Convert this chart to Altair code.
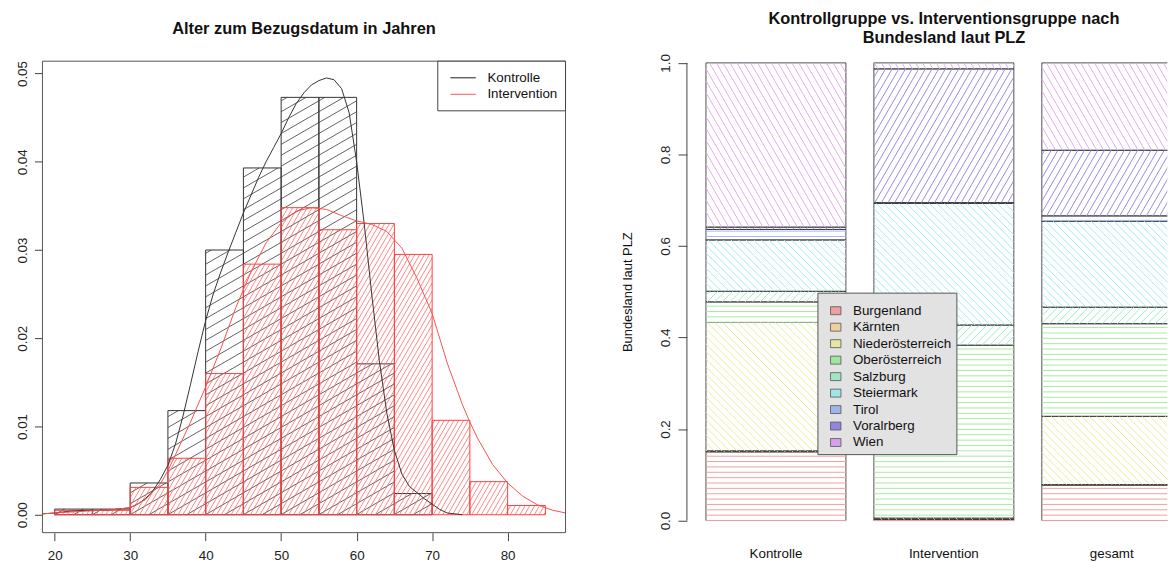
import math
import pandas as pd
import altair as alt

FONT = "Liberation Sans"

# ---------------- data: left panel (histogram + density) ----------------
bin_starts = [20, 25, 30, 35, 40, 45, 50, 55, 60, 65, 70, 75, 80]
bin_width = 5
kontrolle_density = [0.00064, 0.00064, 0.0036, 0.0118, 0.0300, 0.0393, 0.0473,
                     0.0473, 0.0171, 0.0024, 0.0, 0.0, 0.0]
intervention_density = [0.0005, 0.0005, 0.0031, 0.0064, 0.0160, 0.0284, 0.0348,
                        0.0323, 0.0330, 0.0295, 0.0107, 0.00375, 0.00105]

kde_kontrolle_x = [18.4, 20, 22, 24, 26, 28, 30, 31, 32, 33, 34, 35, 36, 37, 38, 39,
                   40, 41, 42, 43, 44, 45, 46, 47, 48, 49, 50, 51, 52, 53, 54, 55,
                   56, 57, 58, 59, 60, 61, 62, 63, 64, 65, 66, 67, 68, 69, 70, 71,
                   72, 73, 74]
kde_kontrolle_y = [0.0001, 0.0002, 0.0004, 0.0005, 0.0005, 0.0006, 0.0008, 0.0012,
                   0.0018, 0.0027, 0.0040, 0.0056, 0.0080, 0.0112, 0.0148, 0.0185,
                   0.0220, 0.0250, 0.0275, 0.0298, 0.0320, 0.0342, 0.0362, 0.0382,
                   0.0400, 0.0416, 0.0432, 0.0450, 0.0466, 0.0478, 0.0487, 0.0492,
                   0.0495, 0.0493, 0.0483, 0.0456, 0.0400, 0.0330, 0.0250, 0.0175,
                   0.0115, 0.0073, 0.0046, 0.0032, 0.0025, 0.0018, 0.0012, 0.0006,
                   0.0002, 0.0001, 0.0]
kde_intervention_x = [18.4, 20, 22, 24, 26, 28, 30, 32, 34, 35, 36, 38, 40, 42, 44,
                      46, 48, 50, 52, 54, 56, 58, 60, 62, 64, 66, 68, 70, 72, 74, 75,
                      76, 78, 80, 82, 84, 86, 87.7]
kde_intervention_y = [0.0001, 0.0002, 0.0003, 0.0004, 0.0005, 0.0006, 0.0008, 0.0017,
                      0.0035, 0.0050, 0.0068, 0.0105, 0.0145, 0.0188, 0.0235, 0.0275,
                      0.0308, 0.0331, 0.0344, 0.0348, 0.0346, 0.0339, 0.0333, 0.0329,
                      0.0321, 0.0302, 0.0268, 0.0228, 0.0172, 0.0125, 0.0105, 0.0087,
                      0.0057, 0.0036, 0.0021, 0.0011, 0.0005, 0.0002]
hist_x_ticks = [20, 30, 40, 50, 60, 70, 80]
hist_y_ticks = [0.0, 0.01, 0.02, 0.03, 0.04, 0.05]
hist_series = ["Kontrolle", "Intervention"]
hist_title = "Alter zum Bezugsdatum in Jahren"

# ---------------- data: right panel (stacked shares) ----------------
bar_groups = ["Kontrolle", "Intervention", "gesamt"]
bundeslaender = ["Burgenland", "Kärnten", "Niederösterreich", "Oberösterreich",
                 "Salzburg", "Steiermark", "Tirol", "Voralrberg", "Wien"]
share_kontrolle = [0.150, 0.002, 0.2807, 0.0449, 0.0232, 0.1122, 0.023, 0.005, 0.359]
share_intervention = [0.002, 0.0, 0.003, 0.378, 0.044, 0.2657, 0.002, 0.2921, 0.0132]
share_gesamt = [0.0774, 0.001, 0.1492, 0.2024, 0.036, 0.188, 0.0116, 0.1434, 0.191]
bar_y_ticks = [0.0, 0.2, 0.4, 0.6, 0.8, 1.0]
bar_title = ["Kontrollgruppe vs. Interventionsgruppe nach", "Bundesland laut PLZ"]
bar_ylabel = "Bundesland laut PLZ"

# ---------------- styles ----------------
hatch_style = {  # angle (deg), spacing (px), line colour
    "Burgenland": (0, 5.4, "#f2a0a0"),
    "Kärnten": (45, 5.4, "#f2d2a0"),
    "Niederösterreich": (135, 5.4, "#ecec98"),
    "Oberösterreich": (0, 5.4, "#a6eca0"),
    "Salzburg": (45, 5.4, "#a0ecc6"),
    "Steiermark": (135, 5.4, "#a0ecec"),
    "Tirol": (0, 5.4, "#a6b6f0"),
    "Voralrberg": (60, 5.8, "#998be6"),
    "Wien": (120, 6.0, "#e4aaf4"),
}
swatch_colors = ["#eea0a0", "#eed0a0", "#e6e6a0", "#a0e6a0", "#a0e6c6", "#a0e6e6",
                 "#a0b4ec", "#9484e0", "#d8a0ec"]

# ---------------- layout ----------------
LW, LH = 527, 475
LX = [18.38, 87.67]
LY = [-0.00203, 0.0514]
RW, RH = 484, 475
R_PX_PER_BAR = 141.0
RX = [0.064, 0.064 + RW / R_PX_PER_BAR]
RY = [-0.0265, 1.0037]
GAP = 122.3
BAR_SPACE, BAR_WIDTH = 0.2, 1.0


def hatch(x0, x1, y0, y1, angle, spacing, sx, sy):
    X0, X1 = sorted((x0 * sx, x1 * sx))
    Y0, Y1 = sorted((y0 * sy, y1 * sy))
    if X1 - X0 < 1e-9 or Y1 - Y0 < 1e-9:
        return []
    th = math.radians(angle)
    dx, dy = math.cos(th), math.sin(th)
    nx, ny = -dy, dx
    cs = [nx * X + ny * Y for X in (X0, X1) for Y in (Y0, Y1)]
    segs = []
    for k in range(math.ceil(min(cs) / spacing), math.floor(max(cs) / spacing) + 1):
        c = k * spacing
        px, py = c * nx, c * ny
        t0, t1 = -1e12, 1e12
        for p, d, lo, hi in ((px, dx, X0, X1), (py, dy, Y0, Y1)):
            if abs(d) < 1e-12:
                if p < lo - 1e-9 or p > hi + 1e-9:
                    t0, t1 = 1.0, 0.0
            else:
                a, b = (lo - p) / d, (hi - p) / d
                if a > b:
                    a, b = b, a
                t0, t1 = max(t0, a), min(t1, b)
        if t1 - t0 > 1e-6:
            segs.append(((px + t0 * dx) / sx, (py + t0 * dy) / sy,
                         (px + t1 * dx) / sx, (py + t1 * dy) / sy))
    return segs


def one(text):
    return pd.DataFrame({"t": [text]})


# ======================= LEFT PANEL =======================
lsx = LW / (LX[1] - LX[0])
lsy = LH / (LY[1] - LY[0])
lxs = alt.Scale(domain=LX, nice=False, zero=False)
lys = alt.Scale(domain=LY, nice=False, zero=False)

L_XAX = alt.Axis(values=hist_x_ticks, format="d", domain=False, grid=False, tickSize=8,
                 tickColor="#444", labelFontSize=13.5, labelPadding=8.5, labelColor="#222",
                 labelFont=FONT, labelOverlap=False, title=None)
L_YAX = alt.Axis(values=hist_y_ticks, format=".2f", domain=False, grid=False, tickSize=8,
                 tickColor="#444", labelFontSize=13.5, labelAngle=270, labelAlign="center",
                 labelBaseline="alphabetic", labelPadding=8, labelColor="#222",
                 labelFont=FONT, labelOverlap=False, title=None)

hist_rows = []
hatch_rows = []
for series, dens, angle, spacing, col in (
        ("Kontrolle", kontrolle_density, 30, 9.5, "#3a3a3a"),
        ("Intervention", intervention_density, 60, 4.2, "#ff6a6a")):
    for b, d in zip(bin_starts, dens):
        hist_rows.append({"series": series, "x0": b, "x1": b + bin_width, "y0": 0.0, "y1": d})
        for s in hatch(b, b + bin_width, 0.0, d, angle, spacing, lsx, lsy):
            hatch_rows.append({"series": series, "x": s[0], "y": s[1], "x2": s[2], "y2": s[3], "col": col})
hist_df = pd.DataFrame(hist_rows)
hatch_df = pd.DataFrame(hatch_rows)

kde_df = pd.concat([
    pd.DataFrame({"x": kde_kontrolle_x, "y": kde_kontrolle_y, "series": "Kontrolle", "col": "#333333"}),
    pd.DataFrame({"x": kde_intervention_x, "y": kde_intervention_y, "series": "Intervention", "col": "#ff5050"}),
])


def hist_hatch(series):
    return alt.Chart(hatch_df[hatch_df.series == series]).mark_rule(strokeWidth=0.8).encode(
        x=alt.X("x:Q", scale=lxs, axis=L_XAX), y=alt.Y("y:Q", scale=lys, axis=L_YAX),
        x2="x2:Q", y2="y2:Q", color=alt.Color("col:N", scale=None))


def hist_bars(series, stroke):
    d = hist_df[(hist_df.series == series) & (hist_df.y1 > 0)]
    return alt.Chart(d).mark_rect(fill="white", fillOpacity=0, stroke=stroke, strokeWidth=1).encode(
        x=alt.X("x0:Q", scale=lxs, axis=L_XAX), x2="x1:Q",
        y=alt.Y("y1:Q", scale=lys, axis=L_YAX), y2="y0:Q")


kde_layer = alt.Chart(kde_df).mark_line(strokeWidth=1).encode(
    x=alt.X("x:Q", scale=lxs, axis=L_XAX), y=alt.Y("y:Q", scale=lys, axis=L_YAX),
    color=alt.Color("col:N", scale=None), detail="series:N")

frame = alt.Chart(one("")).mark_rect(fillOpacity=0, fill="white", stroke="#555", strokeWidth=1).encode(
    x=alt.value(0), x2=alt.value(LW), y=alt.value(0), y2=alt.value(LH))

leg_box = alt.Chart(one("")).mark_rect(fill="white", stroke="#444", strokeWidth=1).encode(
    x=alt.value(398.3), x2=alt.value(LW), y=alt.value(0), y2=alt.value(50))
leg_layers = [leg_box]
for i, (name, col) in enumerate(zip(hist_series, ["#444444", "#ff7070"])):
    yy = 16.7 + 16.7 * i
    leg_layers.append(alt.Chart(one(name)).mark_rule(color=col, strokeWidth=1.2).encode(
        x=alt.value(411), x2=alt.value(436.6), y=alt.value(yy)))
    leg_layers.append(alt.Chart(one(name)).mark_text(
        align="left", baseline="middle", font=FONT, fontSize=13.5, color="#111").encode(
        x=alt.value(448.3), y=alt.value(yy), text="t:N"))

left_title = alt.Chart(one(hist_title)).mark_text(
    font=FONT, fontSize=16.5, fontWeight="bold", color="#111", baseline="middle").encode(
    x=alt.value(LW / 2), y=alt.value(26.5 - 59.3), text="t:N")

left = alt.layer(
    hist_bars("Kontrolle", "#333333"), hist_hatch("Kontrolle"),
    hist_hatch("Intervention"), hist_bars("Intervention", "#ff4040"),
    kde_layer, frame, *leg_layers, left_title,
).properties(width=LW, height=LH)

# ======================= RIGHT PANEL =======================
rsx = R_PX_PER_BAR
rsy = RH / (RY[1] - RY[0])
rxs = alt.Scale(domain=RX, nice=False, zero=False)
rys = alt.Scale(domain=RY, nice=False, zero=False)

R_YAX = alt.Axis(values=bar_y_ticks, format=".1f", domain=False, grid=False, tickSize=9,
                 tickColor="#444", labelFontSize=13.5, labelAngle=270, labelAlign="center",
                 labelBaseline="alphabetic", labelPadding=9, labelColor="#222",
                 labelFont=FONT, labelOverlap=False, title=None)

seg_rows, rh_rows = [], []
for gi, (grp, shares) in enumerate(zip(bar_groups, [share_kontrolle, share_intervention, share_gesamt])):
    x0 = BAR_SPACE + gi * (BAR_WIDTH + BAR_SPACE)
    x1 = x0 + BAR_WIDTH
    cum = 0.0
    for st, v in zip(bundeslaender, shares):
        y0, y1 = cum, cum + v
        cum = y1
        seg_rows.append({"group": grp, "state": st, "x0": x0, "x1": x1, "y0": y0, "y1": y1})
        ang, sp, col = hatch_style[st]
        for s in hatch(x0, x1, y0, y1, ang, sp, rsx, rsy):
            rh_rows.append({"x": s[0], "y": s[1], "x2": s[2], "y2": s[3], "col": col})
    seg_rows[-1]["y1"] = 1.0
seg_df = pd.DataFrame(seg_rows)
rh_df = pd.DataFrame(rh_rows)

r_rects = alt.Chart(seg_df).mark_rect(fill="white", fillOpacity=0, stroke="#3c3c3c",
                                      strokeWidth=0.9, clip=True).encode(
    x=alt.X("x0:Q", scale=rxs, axis=None), x2="x1:Q",
    y=alt.Y("y1:Q", scale=rys, axis=R_YAX), y2="y0:Q")

r_hatch = alt.Chart(rh_df).mark_rule(strokeWidth=1, clip=True).encode(
    x=alt.X("x:Q", scale=rxs, axis=None), y=alt.Y("y:Q", scale=rys, axis=R_YAX),
    x2="x2:Q", y2="y2:Q", color=alt.Color("col:N", scale=None))

r_axisline = alt.Chart(pd.DataFrame({"lo": [bar_y_ticks[0]], "hi": [bar_y_ticks[-1]]})).mark_rule(
    color="#444", strokeWidth=1).encode(
    x=alt.value(0), y=alt.Y("lo:Q", scale=rys, axis=R_YAX), y2="hi:Q")

xlab_df = pd.DataFrame({"group": bar_groups,
                        "xc": [BAR_SPACE + i * (BAR_WIDTH + BAR_SPACE) + BAR_WIDTH / 2
                               for i in range(len(bar_groups))]})
r_xlabels = alt.Chart(xlab_df).mark_text(font=FONT, fontSize=13.5, color="#111",
                                         baseline="middle").encode(
    x=alt.X("xc:Q", scale=rxs, axis=None), y=alt.value(496.5), text="group:N")

r_ytitle = alt.Chart(one(bar_ylabel)).mark_text(font=FONT, fontSize=13, color="#111", angle=270,
                                                baseline="middle").encode(
    x=alt.value(-59), y=alt.value(232.7), text="t:N")

r_titles = [alt.Chart(one(line)).mark_text(font=FONT, fontSize=16.5, fontWeight="bold",
                                           color="#111", baseline="middle").encode(
    x=alt.value(259), y=alt.value(yy), text="t:N")
    for line, yy in zip(bar_title, [-42.0, -23.6])]

r_leg = [alt.Chart(one("")).mark_rect(fill="#e2e2e2", stroke="#555", strokeWidth=1).encode(
    x=alt.value(132), x2=alt.value(272), y=alt.value(233.7), y2=alt.value(396.4))]
for i, (st, col) in enumerate(zip(bundeslaender, swatch_colors)):
    yy = 251.4 + 16.6 * i
    r_leg.append(alt.Chart(one(st)).mark_rect(fill=col, stroke="#555", strokeWidth=0.8).encode(
        x=alt.value(144.7), x2=alt.value(155.2), y=alt.value(yy - 4), y2=alt.value(yy + 4)))
    r_leg.append(alt.Chart(one(st)).mark_text(align="left", baseline="middle", font=FONT,
                                              fontSize=13.5, color="#111").encode(
        x=alt.value(167.3), y=alt.value(yy), text="t:N"))

right = alt.layer(r_rects, r_hatch, r_axisline, r_xlabels, r_ytitle, *r_titles, *r_leg).properties(
    width=RW, height=RH)

chart = alt.hconcat(left, right, spacing=GAP, bounds="flush").properties(
    padding={"left": 6.7, "top": 1.5, "right": 0, "bottom": 0},
    background="white",
).configure_view(stroke=None).configure_axis(labelFont=FONT)

chart.save("out.html", embed_options={"renderer": "svg", "actions": False})
